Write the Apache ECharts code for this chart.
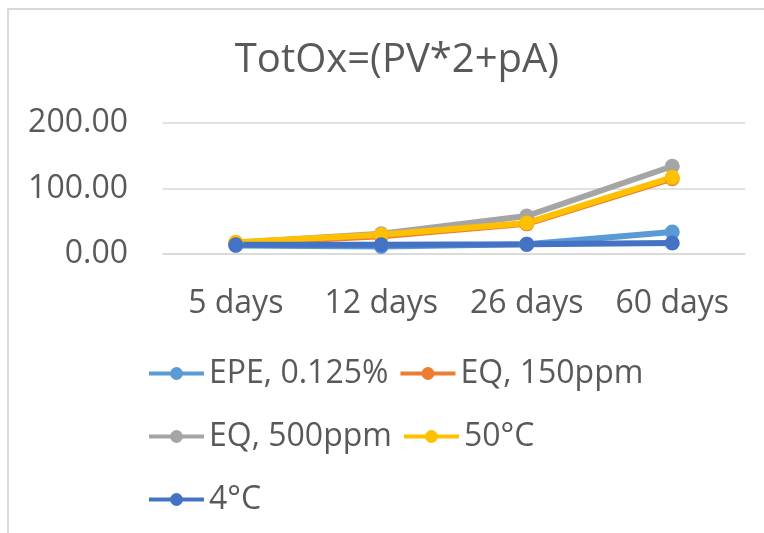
<!DOCTYPE html>
<html>
<head>
<meta charset="utf-8">
<script src="https://cdn.jsdelivr.net/npm/echarts@6/dist/echarts.min.js"></script>
<style>
  html, body { margin: 0; padding: 0; background: #ffffff; }
  #chart { width: 764px; height: 533px; }
</style>
</head>
<body>
<div id="chart"></div>
<script>
// Storage time points
const categories = ['5 days', '12 days', '26 days', '60 days'];

// Total oxidation value per treatment
const epe0125 = [13, 11.5, 15, 33.5];
const eq150 = [16, 27, 46, 115];
const eq500 = [17, 31, 58, 134];
const temp50 = [18, 29.5, 47.5, 117];
const temp4 = [14, 14.2, 14.7, 16.8];

const seriesNames = ['EPE, 0.125%', 'EQ, 150ppm', 'EQ, 500ppm', '50°C', '4°C'];
const seriesValues = [epe0125, eq150, eq500, temp50, temp4];
const seriesColors = ['#5B9BD5', '#ED7D31', '#A5A5A5', '#FFC000', '#4472C4'];

const yTicks = { min: 0, max: 200, interval: 100 };

const FONT = '"Open Sans", "Noto Sans", sans-serif';
const TEXT = '#595959';

const chart = echarts.init(document.getElementById('chart'), null, { renderer: 'canvas' });

chart.setOption({
  animation: false,
  backgroundColor: '#ffffff',
  graphic: [{
    type: 'rect',
    shape: { x: 8, y: 9, width: 800, height: 560 },
    style: { fill: 'none', stroke: '#d9d9d9', lineWidth: 2 },
    silent: true,
    z: -1
  }],
  title: {
    text: 'TotOx=(PV*2+pA)',
    left: 392,
    top: 36,
    textAlign: 'center',
    textStyle: { fontFamily: FONT, fontSize: 40, fontWeight: 'normal', color: TEXT }
  },
  grid: { left: 163, right: 19, top: 123, height: 131 },
  xAxis: {
    type: 'category',
    data: categories,
    boundaryGap: true,
    axisLine: { show: true, lineStyle: { color: '#d9d9d9', width: 1.5 } },
    axisTick: { show: false },
    axisLabel: {
      color: TEXT, fontFamily: FONT, fontSize: 32, margin: 34,
      interval: 0, hideOverlap: false
    }
  },
  yAxis: {
    type: 'value',
    min: yTicks.min,
    max: yTicks.max,
    interval: yTicks.interval,
    axisLine: { show: false },
    axisTick: { show: false },
    splitLine: { lineStyle: { color: '#d9d9d9', width: 1.5 } },
    axisLabel: {
      color: TEXT, fontFamily: FONT, fontSize: 32, margin: 35,
      formatter: v => v.toFixed(2)
    }
  },
  legend: {
    left: 147,
    top: 347,
    width: 500,
    padding: 0,
    itemWidth: 55,
    itemHeight: 16,
    itemGap: 10,
    data: seriesNames,
    lineStyle: { width: 4 },
    textStyle: { color: TEXT, fontFamily: FONT, fontSize: 32, lineHeight: 53 }
  },
  series: seriesNames.map((name, i) => ({
    name,
    type: 'line',
    data: seriesValues[i],
    color: seriesColors[i],
    symbol: 'circle',
    symbolSize: 15,
    lineStyle: { width: 6, color: seriesColors[i] },
    itemStyle: { color: seriesColors[i] }
  }))
});
</script>
</body>
</html>
